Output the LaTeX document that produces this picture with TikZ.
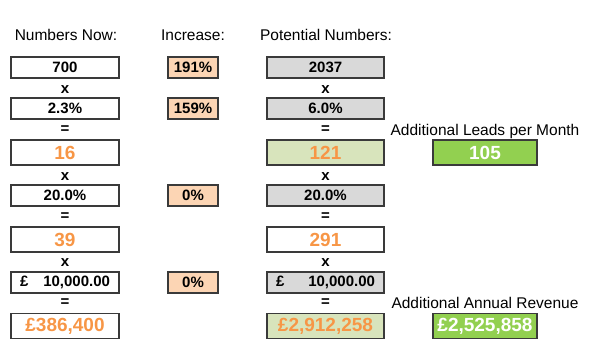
\documentclass[tikz,border=0pt]{standalone}
\usepackage{fontspec}
\setmainfont{Liberation Sans}
\definecolor{orng}{HTML}{F79646}
\definecolor{peach}{HTML}{FCD5B4}
\definecolor{gry}{HTML}{D9D9D9}
\definecolor{lgreen}{HTML}{D8E4BC}
\definecolor{bgreen}{HTML}{92D050}
\definecolor{edge}{HTML}{3A3A3A}
\tikzset{
  cell/.style={draw=edge, line width=1.3pt, inner sep=0pt, minimum height=21pt, font=\fontsize{15}{17}\selectfont\bfseries},
  nowcell/.style={cell, minimum width=108pt},
  inccell/.style={cell, minimum width=50pt, fill=peach},
  potcell/.style={cell, minimum width=117pt},
  bigcell/.style={minimum height=25pt, font=\fontsize{19}{21}\selectfont\bfseries, text=orng},
  rescell/.style={draw=edge, line width=1.3pt, inner sep=0pt, minimum width=104pt, minimum height=25pt, fill=bgreen, text=white, font=\fontsize{19}{21}\selectfont\bfseries},
  op/.style={font=\fontsize{15}{17}\selectfont\bfseries, inner sep=0pt},
  hdr/.style={font=\fontsize{15.5}{17}\selectfont, inner sep=0pt},
}
\begin{document}
\begin{tikzpicture}[x=1pt,y=-1pt]
\useasboundingbox (0,0) rectangle (602,360);
% headers
\node[hdr] (h1) at (66,35) {Numbers Now:};
\node[hdr] (h2) at (193,35) {Increase:};
\node[hdr] (h3) at (326,35) {Potential Numbers:};
% now column
\node[nowcell] (n1) at (65,67.5) {700};
\node[op] (nx1) at (65,90) {x};
\node[nowcell] (n2) at (65,108.5) {2.3\%};
\node[op] (ne1) at (65,130) {=};
\node[nowcell,bigcell] (n3) at (65,152.5) {16};
\node[op] (nx2) at (65,177) {x};
\node[nowcell] (n4) at (65,195.5) {20.0\%};
\node[op] (ne2) at (65,217) {=};
\node[nowcell,bigcell] (n5) at (65,239.5) {39};
\node[op] (nx3) at (65,263) {x};
\node[nowcell] (n6) at (65,282.5) {\makebox[90pt]{£\hfill 10,000.00}};
\node[op] (ne3) at (65,303) {=};
\node[nowcell,bigcell] (n7) at (65,326) {£386,400};
% increase column
\node[inccell] (i1) at (193,67.5) {191\%};
\node[inccell] (i2) at (193,108.5) {159\%};
\node[inccell] (i3) at (193,195.5) {0\%};
\node[inccell] (i4) at (193,282.5) {0\%};
% potential column
\node[potcell,fill=gry] (p1) at (325.5,67.5) {2037};
\node[op] (px1) at (325.5,90) {x};
\node[potcell,fill=gry] (p2) at (325.5,108.5) {6.0\%};
\node[op] (pe1) at (325.5,130) {=};
\node[potcell,bigcell,fill=lgreen] (p3) at (325.5,152.5) {121};
\node[op] (px2) at (325.5,177) {x};
\node[potcell,fill=gry] (p4) at (325.5,195.5) {20.0\%};
\node[op] (pe2) at (325.5,217) {=};
\node[potcell,bigcell] (p5) at (325.5,239.5) {291};
\node[op] (px3) at (325.5,263) {x};
\node[potcell,fill=gry] (p6) at (325.5,282.5) {\makebox[99pt]{£\hfill 10,000.00}};
\node[op] (pe3) at (325.5,303) {=};
\node[potcell,bigcell,fill=lgreen] (p7) at (325.5,326) {£2,912,258};
% results
\node[hdr] (l1) at (485,131) {Additional Leads per Month};
\node[rescell] (r1) at (485,152.5) {105};
\node[hdr] (l2) at (485,303) {Additional Annual Revenue};
\node[rescell] (r2) at (485,326) {£2,525,858};
\end{tikzpicture}
\end{document}
